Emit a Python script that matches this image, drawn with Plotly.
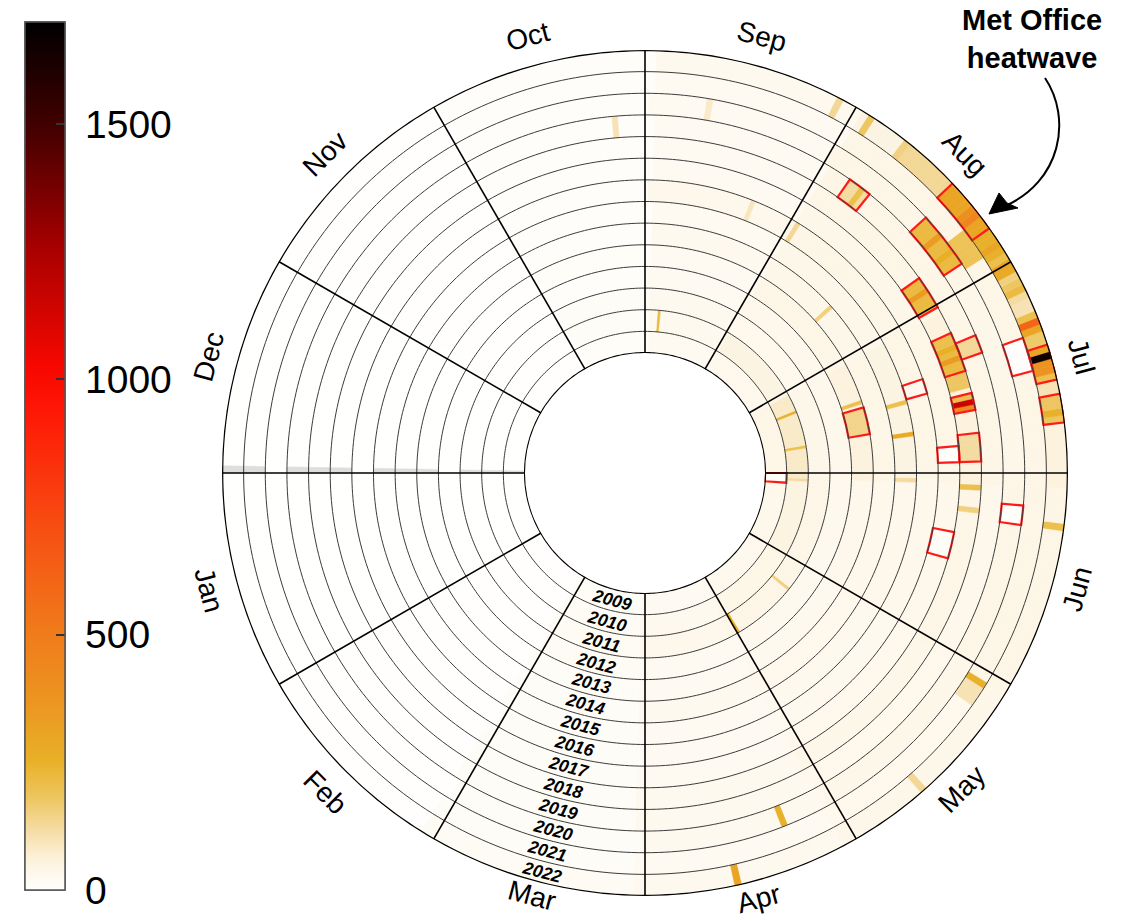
import math
import datetime as dt
import plotly.graph_objects as go

# ---------------------------------------------------------------- data
YEARS = list(range(2009, 2023))
MONTHS = ["Jan", "Feb", "Mar", "Apr", "May", "Jun",
          "Jul", "Aug", "Sep", "Oct", "Nov", "Dec"]
SLOTS = 366                      # day-of-year positions round the circle
TICK_VALUES = [0, 500, 1000, 1500]
VALUE_MAX = 1700

# typical daily level for each month (Jan..Dec) of each year
MONTHLY_LEVEL = {
    2009: [2, 4, 16, 24, 30, 35, 40, 32, 26, 12, 5, 2],
    2010: [2, 4, 18, 30, 38, 50, 80, 48, 30, 14, 5, 2],
    2011: [2, 5, 22, 35, 40, 40, 36, 32, 30, 16, 6, 2],
    2012: [2, 4, 20, 24, 30, 30, 35, 35, 26, 10, 5, 2],
    2013: [2, 4, 15, 24, 30, 35, 55, 40, 26, 12, 5, 2],
    2014: [2, 4, 16, 28, 32, 35, 42, 36, 30, 10, 5, 2],
    2015: [2, 4, 15, 24, 30, 35, 48, 36, 26, 10, 5, 2],
    2016: [2, 4, 15, 24, 30, 35, 42, 40, 34, 10, 5, 2],
    2017: [2, 4, 15, 26, 32, 35, 42, 36, 26, 10, 5, 2],
    2018: [2, 4, 16, 28, 36, 42, 55, 42, 26, 10, 5, 2],
    2019: [2, 4, 16, 28, 32, 35, 42, 40, 26, 10, 5, 2],
    2020: [2, 4, 15, 28, 36, 40, 36, 42, 26, 10, 5, 2],
    2021: [2, 4, 15, 24, 32, 40, 42, 40, 26, 10, 5, 2],
    2022: [2, 4, 18, 30, 36, 42, 55, 48, 30, 10, 5, 2],
}

# notable days: (year, first day-of-year, last day-of-year, value)
NOTABLE_DAYS = [
    (2009, 180, 183, 12),
    (2010, 181, 181, 120), (2010, 193, 193, 200), (2010, 206, 206, 250),
    (2010, 270, 270, 220),
    (2011, 123, 123, 260), (2011, 144, 144, 150),
    (2013, 194, 200, 140), (2013, 202, 202, 200),
    (2014, 226, 226, 150),
    (2015, 182, 182, 120), (2015, 192, 192, 280), (2015, 199, 199, 200),
    (2016, 200, 202, 30), (2016, 243, 243, 130), (2016, 253, 253, 90),
    (2017, 168, 172, 15), (2017, 186, 188, 10),
    (2018, 177, 177, 150), (2018, 181, 181, 200), (2018, 186, 190, 120),
    (2018, 195, 195, 420), (2018, 196, 196, 1150), (2018, 197, 197, 200),
    (2018, 199, 201, 180), (2018, 202, 203, 220), (2018, 204, 204, 350),
    (2018, 205, 205, 220), (2018, 206, 206, 260), (2018, 207, 208, 200),
    (2018, 214, 219, 220), (2018, 217, 217, 350),
    (2019, 204, 206, 130), (2019, 236, 239, 120), (2019, 237, 237, 200),
    (2019, 280, 280, 100),
    (2020, 114, 114, 250), (2020, 176, 178, 10), (2020, 218, 226, 220),
    (2020, 220, 220, 260), (2020, 223, 223, 350), (2020, 265, 265, 80),
    (2021, 148, 150, 100), (2021, 151, 151, 250), (2021, 199, 203, 8),
    (2021, 217, 221, 190),
    (2022, 105, 105, 300), (2022, 134, 134, 130), (2022, 176, 176, 200),
    (2022, 191, 194, 180), (2022, 192, 192, 250), (2022, 195, 196, 100),
    (2022, 197, 197, 200), (2022, 198, 199, 380), (2022, 200, 200, 1650),
    (2022, 201, 201, 300), (2022, 202, 203, 170), (2022, 204, 204, 300),
    (2022, 205, 205, 600), (2022, 206, 206, 200), (2022, 207, 208, 100),
    (2022, 209, 209, 120), (2022, 210, 210, 220), (2022, 211, 211, 180),
    (2022, 212, 212, 150), (2022, 213, 213, 280), (2022, 214, 214, 300),
    (2022, 215, 215, 200), (2022, 216, 216, 250), (2022, 217, 217, 300),
    (2022, 218, 219, 250), (2022, 220, 227, 300), (2022, 222, 222, 450),
    (2022, 223, 223, 400), (2022, 228, 235, 130), (2022, 236, 236, 150),
    (2022, 242, 242, 180), (2022, 247, 247, 130),
]

# Met Office heatwave periods: (year, first day-of-year, last day-of-year)
HEATWAVES = [
    (2009, 180, 183), (2013, 194, 200), (2016, 200, 202),
    (2017, 168, 172), (2017, 186, 188),
    (2018, 186, 190), (2018, 195, 197), (2018, 202, 208), (2018, 214, 219),
    (2019, 204, 206), (2019, 236, 239),
    (2020, 176, 178), (2020, 218, 226),
    (2021, 199, 203),
    (2022, 191, 194), (2022, 197, 201), (2022, 220, 227),
]

# ---------------------------------------------------------------- layout
W, H = 1133, 921
CX, CY = 645, 473                 # centre of the wheel, px
R_OUT, R_IN = 423, 120            # outer / hole radius, px
N_RING = len(YEARS)
SLOT_DEG = 360 / SLOTS
FONT = "Liberation Sans, Arial"

COLORSCALE = [
    [0.0, "#ffffff"], [0.015, "#fefaf1"], [0.04, "#fbefd4"],
    [0.07, "#f4dba2"], [0.11, "#edc459"], [0.15, "#e8b027"],
    [0.22, "#ec9421"], [0.30, "#f07a1a"], [0.42, "#f74d12"],
    [0.56, "#ff1405"], [0.60, "#f80800"], [0.74, "#a80000"],
    [0.88, "#420000"], [1.0, "#000000"],
]

# shared colour-bar geometry
CBAR = dict(
    x=25 / W, xanchor="left", xpad=0,
    y=1 - 456 / H, yanchor="middle", ypad=0,
    len=868, lenmode="pixels", thickness=40, thicknessmode="pixels",
    outlinewidth=1.5, outlinecolor="#555555",
    tickvals=TICK_VALUES,
)


def slot_theta(first, last):
    """Centre angle and width (deg) of a run of day-of-year slots."""
    centre = ((first - 1) + last) / 2 * SLOT_DEG
    return centre, (last - first + 1) * SLOT_DEG


# build the day grid
notable = {}
for yr, d0, d1, v in NOTABLE_DAYS:
    for d in range(d0, d1 + 1):
        notable[(yr, d)] = v

cell_r, cell_base, cell_theta, cell_val = [], [], [], []
gap_base, gap_theta = [], []
for k, yr in enumerate(YEARS):
    n_days = 366 if (yr % 4 == 0) else 365
    for doy in range(1, SLOTS + 1):
        th, _ = slot_theta(doy, doy)
        if doy > n_days:
            gap_base.append(k)
            gap_theta.append(th)
            continue
        month = (dt.date(yr, 1, 1) + dt.timedelta(days=doy - 1)).month
        val = notable.get((yr, doy), MONTHLY_LEVEL[yr][month - 1])
        cell_r.append(1)
        cell_base.append(k)
        cell_theta.append(th)
        cell_val.append(val)

fig = go.Figure()

# daily cells; its colour bar carries the numbers
fig.add_trace(go.Barpolar(
    r=cell_r, base=cell_base, theta=cell_theta, width=SLOT_DEG,
    marker=dict(
        color=cell_val, colorscale=COLORSCALE, cmin=0, cmax=VALUE_MAX,
        line=dict(color=cell_val, colorscale=COLORSCALE, cmin=0,
                  cmax=VALUE_MAX, width=0.6),
        colorbar=dict(
            **CBAR,
            ticks="outside", ticklen=12, tickcolor="rgba(0,0,0,0)",
            tickfont=dict(size=39, family=FONT, color="black"),
        ),
    ),
    showlegend=False, hoverinfo="skip",
))

# same scale again, drawn over it for the short inner tick marks
fig.add_trace(go.Scatterpolar(
    r=[None], theta=[None], mode="markers",
    marker=dict(color=[0], colorscale=COLORSCALE, cmin=0, cmax=VALUE_MAX,
                showscale=True,
                colorbar=dict(**CBAR, ticks="inside", ticklen=9, tickwidth=2,
                              tickcolor="#333333", showticklabels=False)),
    showlegend=False, hoverinfo="skip",
))

# slots with no data (day 366 of common years)
fig.add_trace(go.Barpolar(
    r=[1] * len(gap_base), base=gap_base, theta=gap_theta, width=SLOT_DEG,
    marker=dict(color="#dedede", line=dict(color="#dedede", width=0.5)),
    showlegend=False, hoverinfo="skip",
))

# ring boundaries
circle_theta = list(range(0, 361))
for k in range(N_RING + 1):
    if k == N_RING:
        lw, lc = 2.6, "black"
    elif k == 0:
        lw, lc = 2.0, "black"
    else:
        lw, lc = 1.0, "#3c3c3c"
    fig.add_trace(go.Scatterpolar(
        r=[k] * len(circle_theta), theta=circle_theta, mode="lines",
        line=dict(color=lc, width=lw), showlegend=False, hoverinfo="skip",
    ))

# month dividers
div_r, div_t = [], []
for m in range(12):
    div_r += [0, N_RING, None]
    div_t += [m * 30, m * 30, None]
fig.add_trace(go.Scatterpolar(
    r=div_r, theta=div_t, mode="lines",
    line=dict(color="black", width=1.6), showlegend=False, hoverinfo="skip",
))

# heatwave outlines
hw_base, hw_theta, hw_width = [], [], []
for yr, d0, d1 in HEATWAVES:
    th, wd = slot_theta(d0, d1)
    hw_base.append(YEARS.index(yr))
    hw_theta.append(th)
    hw_width.append(wd)
fig.add_trace(go.Barpolar(
    r=[1] * len(hw_base), base=hw_base, theta=hw_theta, width=hw_width,
    marker=dict(color="rgba(0,0,0,0)", line=dict(color="#ff1a1a", width=2.2)),
    showlegend=False, hoverinfo="skip",
))

fig.update_layout(
    width=W, height=H,
    margin=dict(l=0, r=0, t=0, b=0),
    paper_bgcolor="white",
    font=dict(family=FONT, color="black"),
    polar=dict(
        domain=dict(x=[(CX - R_OUT) / W, (CX + R_OUT) / W],
                    y=[1 - (CY + R_OUT) / H, 1 - (CY - R_OUT) / H]),
        hole=R_IN / R_OUT,
        bgcolor="white",
        barmode="overlay",
        radialaxis=dict(range=[0, N_RING], visible=False),
        angularaxis=dict(rotation=180, direction="counterclockwise",
                         showgrid=False, showline=False, ticks="",
                         showticklabels=False),
    ),
)


def to_paper(r_px, theta_math):
    """Paper coordinates of a point given in px from the wheel centre."""
    a = math.radians(theta_math)
    return (CX + r_px * math.cos(a)) / W, 1 - (CY - r_px * math.sin(a)) / H


# month names, set tangentially round the rim
LABEL_RADIUS = {"Mar": 437, "Apr": 441, "May": 447, "Jun": 448}
for m, name in enumerate(MONTHS):
    th = (180 + 15 + 30 * m) % 360
    x, y = to_paper(LABEL_RADIUS.get(name, 452), th)
    angle = 90 - th if th < 180 else 270 - th
    fig.add_annotation(x=x, y=y, xref="paper", yref="paper", text=name,
                       showarrow=False, textangle=angle,
                       font=dict(size=28, family=FONT, color="black"),
                       xanchor="center", yanchor="middle")

# year labels down the Mar/Apr divider
for k, yr in enumerate(YEARS):
    r_px = R_IN + (R_OUT - R_IN) / N_RING * (k + 0.5)
    x, y = to_paper(r_px, 255.5)
    fig.add_annotation(x=x, y=y, xref="paper", yref="paper", text=str(yr),
                       showarrow=False, textangle=15,
                       font=dict(size=17.5, family=FONT, color="black",
                                 weight="bold", style="italic"),
                       xanchor="center", yanchor="middle")

# callout
fig.add_annotation(x=1032 / W, y=1 - 39 / H, xref="paper", yref="paper",
                   text="Met Office<br>heatwave", showarrow=False,
                   align="center",
                   font=dict(size=29, family=FONT, color="black",
                             weight="bold"),
                   xanchor="center", yanchor="middle")


def P(x, y):
    return f"{x / W:.5f},{1 - y / H:.5f}"


fig.add_shape(type="path", xref="paper", yref="paper",
              path=f"M {P(1045, 78)} C {P(1072, 118)} {P(1062, 182)} {P(1003, 207)}",
              line=dict(color="black", width=2))
fig.add_shape(type="path", xref="paper", yref="paper",
              path=f"M {P(989, 214)} L {P(999, 193)} L {P(1007, 203)} L {P(1018, 208)} Z",
              fillcolor="black", line=dict(color="black", width=1))

fig.write_html("out.html")
